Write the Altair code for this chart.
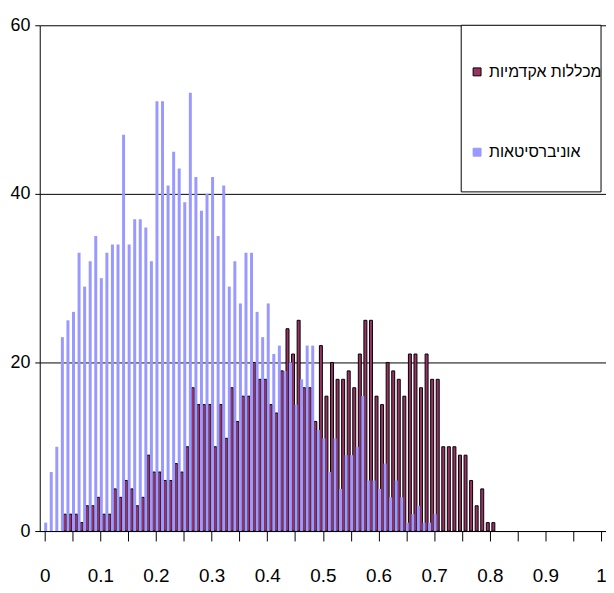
import altair as alt
import pandas as pd

# Categories (bin start values)
bins = [round(i * 0.01, 2) for i in range(82)]

# Series values
colleges = [0, 0, 0, 0, 2, 2, 2, 1, 3, 3,
            4, 2, 2, 5, 4, 6, 5, 3, 4, 9,
            7, 7, 6, 6, 8, 7, 10, 17, 15, 15,
            15, 10, 15, 11, 17, 13, 16, 16, 20, 18,
            18, 15, 14, 19, 24, 21, 25, 17, 17, 13,
            22, 16, 20, 18, 18, 19, 17, 21, 25, 25,
            16, 15, 20, 19, 18, 16, 21, 21, 17, 21,
            18, 18, 10, 10, 10, 9, 9, 6, 3, 5,
            1, 1]
universities = [1, 7, 10, 23, 25, 26, 33, 29, 32, 35,
                30, 33, 34, 34, 47, 34, 37, 37, 36, 32,
                51, 51, 41, 45, 43, 39, 52, 42, 38, 40,
                42, 35, 41, 29, 32, 27, 33, 33, 26, 23,
                27, 21, 22, 19, 20, 15, 18, 22, 22, 12,
                11, 7, 11, 5, 9, 9, 10, 16, 6, 6,
                5, 8, 4, 6, 4, 1, 2, 3, 1, 1,
                2]

series_names = ["מכללות אקדמיות", "אוניברסיטאות"]
fill_colors = ["#993366", "#9999FF"]
stroke_colors = ["#000000", "#9999FF"]

x_ticks = [0, 0.05, 0.1, 0.15, 0.2, 0.25, 0.3, 0.35, 0.4, 0.45, 0.5,
           0.55, 0.6, 0.65, 0.7, 0.75, 0.8, 0.85, 0.9, 0.95, 1.0]
y_ticks = [0, 20, 40, 60]

rows = []
for b, v in zip(bins, colleges):
    rows.append({"bin": b, "value": v, "series": series_names[0]})
for b, v in zip(bins, universities):
    rows.append({"bin": b, "value": v, "series": series_names[1]})
df = pd.DataFrame(rows)

FONT = "Liberation Sans, Arial, sans-serif"

x_enc = alt.X("bin:Q",
              scale=alt.Scale(domain=[0, 1], nice=False, zero=True),
              axis=alt.Axis(values=x_ticks, title=None, grid=False,
                            tickSize=10, tickColor="black", domainColor="black",
                            labelExpr="round(datum.value*20) % 2 == 0 ? '' + round(datum.value*10)/10 : ''",
                            labelPadding=26, labelFontSize=19, labelFont=FONT,
                            labelColor="black", labelFlush=False))
y_enc = alt.Y("value:Q",
              scale=alt.Scale(domain=[0, 60], nice=False),
              stack=None,
              axis=alt.Axis(values=y_ticks, title=None, grid=True,
                            gridColor="black", gridWidth=1, gridOpacity=1,
                            tickSize=5, tickColor="black", domainColor="black",
                            labelPadding=5, labelFontSize=18, labelFont=FONT,
                            labelColor="black"))

legend = alt.Legend(title=None, orient="none", legendX=433, legendY=39,
                    symbolType="square", symbolSize=64, symbolStrokeWidth=1,
                    labelFontSize=16, labelFont=FONT, labelColor="black",
                    labelOffset=4, rowPadding=65, padding=0, labelLimit=300)

color_enc = alt.Color("series:N",
                      scale=alt.Scale(domain=series_names, range=fill_colors),
                      legend=legend)
stroke_enc = alt.Stroke("series:N",
                        scale=alt.Scale(domain=series_names, range=stroke_colors),
                        legend=legend)

base = alt.Chart(df).transform_filter("datum.value > 0")

college_bars = base.transform_filter(
    alt.datum.series == series_names[0]
).mark_bar(size=3, orient="vertical", strokeWidth=1, xOffset=-2).encode(
    x=x_enc, y=y_enc, color=color_enc, stroke=stroke_enc
)

uni_bars = base.transform_filter(
    alt.datum.series == series_names[1]
).mark_bar(size=3, orient="vertical", strokeWidth=0, xOffset=1).encode(
    x=x_enc, y=y_enc, color=color_enc, stroke=stroke_enc
)

legend_box = alt.Chart(pd.DataFrame({"box": [0]})).mark_rect(
    fill="white", stroke="black", strokeWidth=1
).encode(
    x=alt.value(425), x2=alt.value(566), y=alt.value(0), y2=alt.value(168)
)

chart = alt.layer(college_bars, uni_bars, legend_box).properties(
    width=571, height=510,
    autosize=alt.AutoSizeParams(type="none"),
    padding={"left": 32, "top": 15, "right": 0, "bottom": 54},
    background="white",
).configure_view(stroke=None)

chart.save("out.html", embed_options={"renderer": "svg", "actions": False})
